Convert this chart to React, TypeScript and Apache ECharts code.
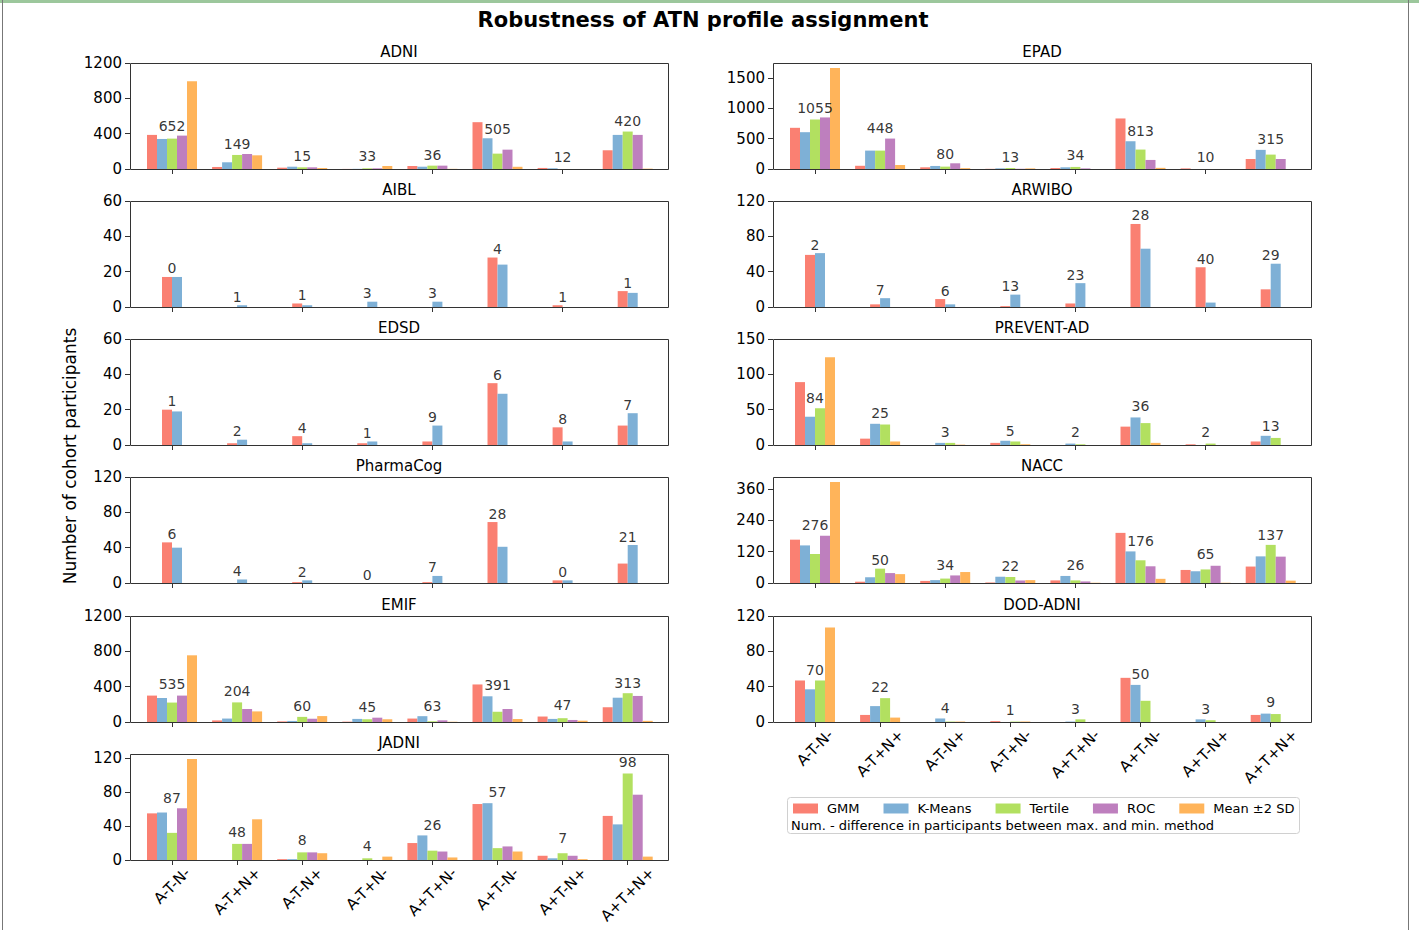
import React, { useEffect, useRef } from 'react';
import * as echarts from 'echarts';

const categories = ['A-T-N-', 'A-T+N+', 'A-T-N+', 'A-T+N-', 'A+T+N-', 'A+T-N-', 'A+T-N+', 'A+T+N+'];
const methods = ['GMM', 'K-Means', 'Tertile', 'ROC', 'Mean ±2 SD'];
const methodColors = ['#FA8072', '#7EB0D6', '#B2E060', '#BE7FBE', '#FFB45A'];

// ADNI
const adniGMM = [386, 23, 15, 1, 34, 530, 12, 212];
const adniKM = [340, 76, 26, 2, 26, 348, 8, 386];
const adniTert = [344, 159, 19, 8, 38, 174, 0, 424];
const adniROC = [378, 170, 19, 8, 38, 219, 0, 386];
const adniMean = [992, 155, 11, 34, 2, 25, 0, 4];
const adniDiff = [652, 149, 15, 33, 36, 505, 12, 420];
const adniNoteY = [389, 189, 55, 50, 57, 360, 45, 443];

// AIBL
const aiblGMM = [17, 0, 2, 0, 0, 28, 1, 9];
const aiblKM = [17, 1, 1, 3, 3, 24, 0, 8];
const aiblDiff = [0, 1, 1, 3, 3, 4, 1, 1];
const aiblNoteY = [17, 1, 2, 3, 3, 28, 1, 9];

// EDSD
const edsdGMM = [20, 1, 5, 1, 2, 35, 10, 11];
const edsdKM = [19, 3, 1, 2, 11, 29, 2, 18];
const edsdDiff = [1, 2, 4, 1, 9, 6, 8, 7];
const edsdNoteY = [20, 3, 5, 2, 11, 35, 10, 18];

// PharmaCog
const pharmGMM = [46, 0, 1, 0, 1, 69, 3, 22];
const pharmKM = [40, 4, 3, 0, 8, 41, 3, 43];
const pharmDiff = [6, 4, 2, 0, 7, 28, 0, 21];
const pharmNoteY = [46, 4, 3, 0, 8, 69, 3, 43];

// EMIF
const emifGMM = [299, 18, 7, 4, 39, 425, 62, 167];
const emifKM = [272, 39, 12, 35, 66, 291, 35, 275];
const emifTert = [220, 222, 58, 31, 8, 116, 43, 326];
const emifROC = [299, 147, 37, 49, 19, 147, 23, 295];
const emifMean = [755, 120, 67, 31, 3, 34, 15, 13];
const emifDiff = [535, 204, 60, 45, 63, 391, 47, 313];
const emifNoteY = [330, 252, 85, 78, 85, 318, 97, 349];

// JADNI
const jadniGMM = [55, 0, 1, 0, 20, 66, 5, 52];
const jadniKM = [56, 0, 1, 0, 29, 67, 2, 42];
const jadniTert = [32, 19, 9, 2, 11, 14, 8, 102];
const jadniROC = [61, 19, 9, 0, 10, 16, 5, 77];
const jadniMean = [119, 48, 8, 4, 3, 10, 1, 4];
const jadniDiff = [87, 48, 8, 4, 26, 57, 7, 98];
const jadniNoteY = [63.5, 23, 14, 6.5, 31, 70, 16, 105];

// EPAD
const epadGMM = [678, 53, 28, 3, 16, 832, 10, 165];
const epadKM = [606, 303, 50, 11, 28, 457, 0, 315];
const epadTert = [815, 303, 39, 16, 34, 320, 0, 237];
const epadROC = [849, 501, 94, 3, 10, 149, 0, 165];
const epadMean = [1661, 66, 14, 10, 0, 19, 0, 0];
const epadDiff = [1055, 448, 80, 13, 34, 813, 10, 315];
const epadNoteY = [865, 540, 99, 55, 83, 485, 55, 347];

// ARWIBO
const arwiboGMM = [59, 3, 9, 1, 4, 94, 45, 20];
const arwiboKM = [61, 10, 3, 14, 27, 66, 5, 49];
const arwiboDiff = [2, 7, 6, 13, 23, 28, 40, 29];
const arwiboNoteY = [61, 10, 9, 14, 27, 94, 45, 49];

// PREVENT-AD
const preventGMM = [89, 9, 0, 3, 0, 26, 1, 5];
const preventKM = [40, 30, 3, 6, 2, 39, 0, 13];
const preventTert = [52, 29, 3, 5, 1, 31, 2, 10];
const preventMean = [124, 5, 0.5, 1, 0, 3, 0, 0];
const preventDiff = [84, 25, 3, 5, 2, 36, 2, 13];
const preventNoteY = [54, 33, 5.7, 8, 5.7, 42.6, 5.7, 15];

// NACC
const naccGMM = [166, 5, 8, 2, 10, 192, 50, 63];
const naccKM = [144, 22, 11, 24, 27, 121, 45, 102];
const naccTert = [111, 55, 17, 23, 10, 87, 52, 146];
const naccROC = [181, 38, 29, 10, 6, 64, 66, 101];
const naccMean = [387, 34, 42, 11, 1, 16, 1, 9];
const naccDiff = [276, 50, 34, 22, 26, 176, 65, 137];
const naccNoteY = [188, 57, 38, 32, 35, 130, 77, 153];

// DOD-ADNI
const dodGMM = [47, 8, 0, 1, 0, 50, 0, 8];
const dodKM = [37, 18, 4, 0, 0.5, 42, 3, 9.5];
const dodTert = [47, 27, 0.5, 0.5, 3, 24, 2, 9];
const dodMean = [107, 5, 0.5, 0.5, 0, 0, 0, 0];
const dodDiff = [70, 22, 4, 1, 3, 50, 3, 9];
const dodNoteY = [49, 30, 6.5, 3.5, 4.6, 45, 4.6, 13.5];

const FONT = '"DejaVu Sans", sans-serif';

type Panel = {
  name: string; col: number; row: number; bottom: boolean;
  series: (number[] | null)[]; diff: number[]; noteY: number[];
  max: number; step: number;
};

const panels: Panel[] = [
  { name: 'ADNI', col: 0, row: 0, bottom: false, series: [adniGMM, adniKM, adniTert, adniROC, adniMean], diff: adniDiff, noteY: adniNoteY, max: 1200, step: 400 },
  { name: 'AIBL', col: 0, row: 1, bottom: false, series: [aiblGMM, aiblKM, null, null, null], diff: aiblDiff, noteY: aiblNoteY, max: 60, step: 20 },
  { name: 'EDSD', col: 0, row: 2, bottom: false, series: [edsdGMM, edsdKM, null, null, null], diff: edsdDiff, noteY: edsdNoteY, max: 60, step: 20 },
  { name: 'PharmaCog', col: 0, row: 3, bottom: false, series: [pharmGMM, pharmKM, null, null, null], diff: pharmDiff, noteY: pharmNoteY, max: 120, step: 40 },
  { name: 'EMIF', col: 0, row: 4, bottom: false, series: [emifGMM, emifKM, emifTert, emifROC, emifMean], diff: emifDiff, noteY: emifNoteY, max: 1200, step: 400 },
  { name: 'JADNI', col: 0, row: 5, bottom: true, series: [jadniGMM, jadniKM, jadniTert, jadniROC, jadniMean], diff: jadniDiff, noteY: jadniNoteY, max: 125, step: 40 },
  { name: 'EPAD', col: 1, row: 0, bottom: false, series: [epadGMM, epadKM, epadTert, epadROC, epadMean], diff: epadDiff, noteY: epadNoteY, max: 1745, step: 500 },
  { name: 'ARWIBO', col: 1, row: 1, bottom: false, series: [arwiboGMM, arwiboKM, null, null, null], diff: arwiboDiff, noteY: arwiboNoteY, max: 120, step: 40 },
  { name: 'PREVENT-AD', col: 1, row: 2, bottom: false, series: [preventGMM, preventKM, preventTert, null, preventMean], diff: preventDiff, noteY: preventNoteY, max: 150, step: 50 },
  { name: 'NACC', col: 1, row: 3, bottom: false, series: [naccGMM, naccKM, naccTert, naccROC, naccMean], diff: naccDiff, noteY: naccNoteY, max: 406, step: 120 },
  { name: 'DOD-ADNI', col: 1, row: 4, bottom: true, series: [dodGMM, dodKM, dodTert, null, dodMean], diff: dodDiff, noteY: dodNoteY, max: 120, step: 40 },
];

export default function App() {
  const ref = useRef<HTMLDivElement>(null);
  useEffect(() => {
    if (!ref.current) return;
    const chart = echarts.init(ref.current, null, { renderer: 'svg' });

    // layout constants
    const colLeft = [130, 773];
    const FW = 538;
    const rowTops = [63, 201, 339, 477, 616, 754];
    const PH = 106;
    const tickStep = 65.1;
    const firstTick = 42;
    const gridOff = firstTick - tickStep / 2;
    const gridW = tickStep * categories.length;

    // x label layout (matplotlib-like centered rotated labels)
    const xFont = 15;
    const cv = document.createElement('canvas').getContext('2d')!;
    cv.font = `${xFont}px "DejaVu Sans"`;
    const widths = categories.map((c) => cv.measureText(c).width);
    const Lmin = Math.min(...widths);
    const hTxt = xFont;
    const gap = 5;
    const margin = gap + (Lmin + hTxt) / (2 * Math.SQRT2);
    const rich: Record<string, any> = {};
    categories.forEach((c, i) => {
      const p = (widths[i] - Lmin) / 2;
      rich['r' + i] = { padding: [p, p, 0, 0], fontSize: xFont, fontFamily: FONT, color: '#000' };
    });

    const grids: any[] = [];
    const xAxes: any[] = [];
    const yAxes: any[] = [];
    const series: any[] = [];
    const graphics: any[] = [];

    panels.forEach((p, i) => {
      const L = colLeft[p.col];
      const T = rowTops[p.row];
      grids.push({ left: L + gridOff, top: T, width: gridW, height: PH });
      xAxes.push({
        type: 'category', gridIndex: i, data: categories,
        axisLine: { show: false },
        axisTick: { show: true, alignWithLabel: true, length: 5, lineStyle: { color: '#333' } },
        axisLabel: p.bottom
          ? {
              show: true, interval: 0, rotate: 45, align: 'center', verticalAlign: 'middle', margin,
              formatter: (v: string, idx: number) => `{r${idx}|${v}}`, rich,
            }
          : { show: false },
        splitLine: { show: false },
      });
      const ticks: number[] = [];
      for (let v = 0; v <= p.max + 1e-9; v += p.step) ticks.push(v);
      yAxes.push({
        type: 'value', gridIndex: i, min: 0, max: p.max, interval: p.step, offset: gridOff,
        axisLine: { show: false },
        axisTick: { show: true, length: 5, lineStyle: { color: '#333' }, customValues: ticks },
        axisLabel: {
          show: true, fontSize: 15, color: '#000', fontFamily: FONT, margin: 8, customValues: ticks,
          formatter: (v: number) => String(v),
        },
        splitLine: { show: false },
      });
      p.series.forEach((d, m) => {
        if (!d) return;
        series.push({
          type: 'bar', name: methods[m], xAxisIndex: i, yAxisIndex: i, data: d,
          barWidth: 10, barGap: '0%', itemStyle: { color: methodColors[m] }, silent: true,
        });
      });
      series.push({
        type: 'scatter', name: 'note-' + p.name, xAxisIndex: i, yAxisIndex: i, data: p.noteY,
        symbolSize: 1, itemStyle: { color: 'rgba(0,0,0,0)' }, silent: true, z: 5,
        label: {
          show: true, position: 'top', distance: 1, fontSize: 14, color: '#000', fontFamily: FONT,
          formatter: (q: any) => String(p.diff[q.dataIndex]),
        },
      });
      graphics.push({
        type: 'rect', silent: true, z: 10,
        shape: { x: L + 0.5, y: T + 0.5, width: FW, height: PH },
        style: { fill: 'rgba(0,0,0,0)', stroke: '#333', lineWidth: 1 },
      });
      graphics.push({
        type: 'text', silent: true, x: L + FW / 2, y: T - 11,
        style: { text: p.name, font: `15px ${FONT}`, fill: '#000', align: 'center', verticalAlign: 'middle' },
      });
    });

    graphics.push({
      type: 'text', silent: true, x: 703, y: 20,
      style: { text: 'Robustness of ATN profile assignment', font: `bold 21px ${FONT}`, fill: '#000', align: 'center', verticalAlign: 'middle' },
    });
    graphics.push({
      type: 'text', silent: true, x: 70, y: 456, rotation: Math.PI / 2,
      style: { text: 'Number of cohort participants', font: `17px ${FONT}`, fill: '#000', align: 'center', verticalAlign: 'middle' },
    });
    graphics.push({
      type: 'rect', silent: true, z: 1,
      shape: { x: 787.5, y: 797.5, width: 512, height: 36, r: 3 },
      style: { fill: 'rgba(255,255,255,0)', stroke: '#d0d0d0', lineWidth: 1 },
    });
    graphics.push({
      type: 'text', silent: true, x: 791, y: 825,
      style: { text: 'Num. - difference in participants between max. and min. method', font: `13px ${FONT}`, fill: '#000', align: 'left', verticalAlign: 'middle' },
    });
    // page frame
    graphics.push({ type: 'line', silent: true, shape: { x1: 0, y1: 1.5, x2: 1419, y2: 1.5 }, style: { stroke: '#9cc79c', lineWidth: 3 } });
    graphics.push({ type: 'line', silent: true, shape: { x1: 2.5, y1: 0, x2: 2.5, y2: 930 }, style: { stroke: '#777', lineWidth: 1 } });
    graphics.push({ type: 'line', silent: true, shape: { x1: 1408.5, y1: 0, x2: 1408.5, y2: 930 }, style: { stroke: '#777', lineWidth: 1 } });

    chart.setOption({
      animation: false,
      backgroundColor: '#fff',
      textStyle: { fontFamily: FONT },
      legend: {
        data: methods, left: 793, top: 802, padding: 0, itemWidth: 25, itemHeight: 10, itemGap: 24,
        icon: 'rect', selectedMode: false, z: 5,
        textStyle: { fontSize: 13, color: '#000', fontFamily: FONT, padding: [0, 0, 0, 4] },
      },
      grid: grids,
      xAxis: xAxes,
      yAxis: yAxes,
      series,
      graphic: { elements: graphics },
    });
    return () => chart.dispose();
  }, []);
  return (
    <div
      ref={ref}
      style={{ position: 'fixed', left: 0, top: 0, width: 1419, height: 930, background: '#fff' }}
    />
  );
}
